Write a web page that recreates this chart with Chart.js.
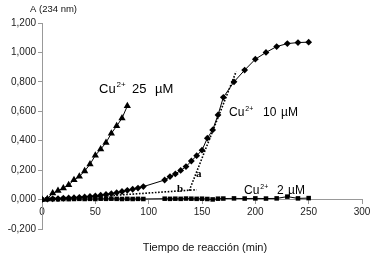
<!DOCTYPE html>
<html lang="es">
<head>
<meta charset="UTF-8">
<title>Cinética de oxidación con Cu2+</title>
<script src="https://cdn.jsdelivr.net/npm/chart.js"></script>
<style>
  html, body { margin: 0; padding: 0; background: #fff; }
</style>
</head>
<body>
<canvas id="grafico" width="377" height="260"></canvas>
<script>
// Cu2+ 25 µM (triángulos)
const tiempo25 = [0, 5, 10, 15, 20, 25, 30, 35, 40, 45, 50, 55, 60, 65, 70, 75, 80];
const abs25    = [0, 0.005, 0.043, 0.06, 0.078, 0.1, 0.133, 0.157, 0.194, 0.24, 0.3, 0.342, 0.387, 0.45, 0.5, 0.553, 0.636];

// Cu2+ 10 µM (rombos)
const tiempo10 = [0, 5, 10, 15, 20, 25, 30, 35, 40, 45, 50, 55, 60, 65, 70, 75, 80, 85, 90, 95,
                  115, 120, 125, 130, 135, 140, 145, 150, 155, 160, 165, 170,
                  180, 190, 200, 210, 220, 230, 240, 250];
const abs10    = [0, 0.003, 0.005, 0.007, 0.009, 0.011, 0.013, 0.015, 0.018, 0.021, 0.025, 0.03, 0.035, 0.04, 0.047, 0.055, 0.063, 0.07, 0.078, 0.088,
                  0.133, 0.156, 0.174, 0.198, 0.224, 0.262, 0.298, 0.336, 0.417, 0.473, 0.575, 0.695,
                  0.8, 0.88, 0.954, 1.0, 1.04, 1.06, 1.067, 1.07];

// Cu2+ 2 µM (cuadrados)
const tiempo2 = [0, 5, 10, 15, 20, 25, 30, 35, 40, 45, 50, 55, 60, 65, 70, 75, 80, 85, 90, 95,
                 115, 120, 125, 130, 135, 140, 145, 150, 155, 160, 165, 170,
                 180, 190, 200, 210, 220, 230, 240, 250];
const abs2    = [0, 0.002, 0.003, 0.002, 0.004, 0.003, 0.004, 0.005, 0.004, 0.005, 0.004, 0.006, 0.005, 0.006, 0.005, 0.004, 0.005, 0.004, 0.005, 0.004,
                 0.006, 0.005, 0.006, 0.005, 0.007, 0.006, 0.005, 0.006, 0.004, 0.001, 0.006, 0.007,
                 0.008, 0.007, 0.008, 0.007, 0.008, 0.02, 0.008, 0.01];

// tangentes (a: fase de propagación, b: fase de latencia)
const tangenteA_t = [138, 182];
const tangenteA_y = [0.06, 0.87];
const tangenteB_t = [40, 145];
const tangenteB_y = [0.015, 0.067];

const ticksX = [0, 50, 100, 150, 200, 250, 300];
const ticksY = [-0.2, 0, 0.2, 0.4, 0.6, 0.8, 1.0, 1.2];

function puntos(xs, ys) {
    return xs.map((x, i) => ({ x: x, y: ys[i] }));
}

// textos sobre el gráfico
const rotulos = {
    id: 'rotulos',
    afterDraw(chart) {
        const ctx = chart.ctx;
        ctx.save();
        ctx.fillStyle = '#000';
        ctx.textBaseline = 'alphabetic';
        ctx.textAlign = 'left';

        function cobre(x, y, size, xConc, conc, xUnidad) {
            ctx.font = size + 'px "Liberation Sans", Arial, sans-serif';
            ctx.fillText('Cu', x, y);
            const w = ctx.measureText('Cu').width;
            ctx.font = Math.round(size * 0.62) + 'px "Liberation Sans", Arial, sans-serif';
            ctx.fillText('2+', x + w + 1, y - size * 0.45);
            ctx.font = size + 'px "Liberation Sans", Arial, sans-serif';
            ctx.fillText(conc, xConc, y);
            ctx.fillText('µM', xUnidad, y);
        }
        cobre(99, 93, 13, 132, '25', 155);
        cobre(229, 116, 12, 263, '10', 281);
        cobre(244, 194, 12, 277, '2', 288);

        ctx.font = 'bold 11px "Liberation Serif", "Times New Roman", serif';
        ctx.fillText('a', 196, 177);
        ctx.fillText('b', 177, 192);

        ctx.fillStyle = '#111';
        ctx.font = '9.5px "Liberation Sans", Arial, sans-serif';
        ctx.fillText('A (234 nm)', 30, 12);
        ctx.font = '11px "Liberation Sans", Arial, sans-serif';
        ctx.textAlign = 'center';
        ctx.fillText('Tiempo de reacción (min)', 205, 251);
        ctx.restore();
    }
};

const serieBase = {
    showLine: true,
    borderColor: '#000',
    backgroundColor: '#000',
    pointBorderColor: '#000',
    pointBackgroundColor: '#000',
    borderWidth: 1,
    pointBorderWidth: 0
};

new Chart(document.getElementById('grafico'), {
    type: 'scatter',
    data: {
        datasets: [
            Object.assign({}, serieBase, { label: 'Cu2+ 25 µM', data: puntos(tiempo25, abs25), pointStyle: 'triangle', pointRadius: 4.2 }),
            Object.assign({}, serieBase, { label: 'Cu2+ 10 µM', data: puntos(tiempo10, abs10), pointStyle: 'rectRot', pointRadius: 3.4 }),
            Object.assign({}, serieBase, { label: 'Cu2+ 2 µM', data: puntos(tiempo2, abs2), pointStyle: 'rect', pointRadius: 3.2 }),
            { label: 'a', data: puntos(tangenteA_t, tangenteA_y), showLine: true, pointRadius: 0,
              borderColor: '#000', borderWidth: 1.6, borderDash: [1.6, 1.6] },
            { label: 'b', data: puntos(tangenteB_t, tangenteB_y), showLine: true, pointRadius: 0,
              borderColor: '#000', borderWidth: 1.6, borderDash: [1.6, 1.6] }
        ]
    },
    options: {
        responsive: false,
        animation: false,
        devicePixelRatio: 1,
        layout: { padding: { top: 23, bottom: 31, left: 0, right: 15 } },
        plugins: { legend: { display: false }, tooltip: { enabled: false } },
        scales: {
            x: {
                type: 'linear',
                position: { y: 0 },
                min: 0, max: 300,
                afterBuildTicks: s => { s.ticks = ticksX.map(v => ({ value: v })); },
                grid: { drawOnChartArea: false, drawTicks: true, tickLength: 4, color: '#999' },
                border: { color: '#999', width: 1 },
                ticks: { color: '#222', font: { family: '"Liberation Sans", Arial, sans-serif', size: 10 }, padding: 3, maxRotation: 0 }
            },
            y: {
                type: 'linear',
                min: -0.2, max: 1.2,
                afterFit: s => { s.width = 42; },
                afterBuildTicks: s => { s.ticks = ticksY.map(v => ({ value: v })); },
                grid: { drawOnChartArea: false, drawTicks: true, tickLength: 4, color: '#999' },
                border: { color: '#999', width: 1 },
                ticks: {
                    color: '#222',
                    font: { family: '"Liberation Sans", Arial, sans-serif', size: 10 },
                    padding: 2,
                    callback: v => (Math.abs(v) < 1e-9 ? 0 : v).toFixed(3).replace('.', ',')
                }
            }
        }
    },
    plugins: [rotulos]
});
</script>
</body>
</html>
